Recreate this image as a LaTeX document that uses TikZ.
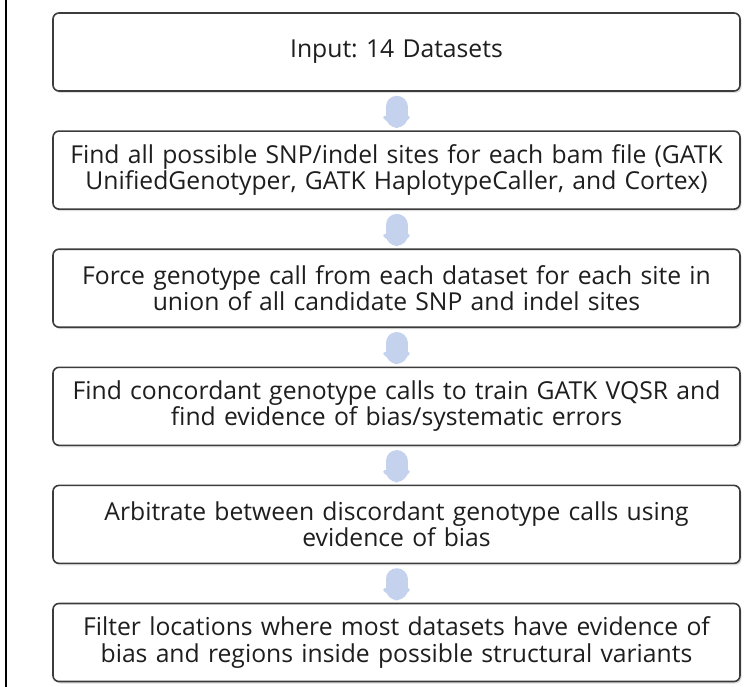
\documentclass[tikz,border=0pt]{standalone}
\usepackage{fontspec}
\setmainfont{Open Sans}
\frenchspacing
\usetikzlibrary{positioning, arrows.meta, shadows}

\definecolor{boxgray}{RGB}{60,60,60}
\definecolor{textgray}{RGB}{30,30,30}
\definecolor{arrowblue}{RGB}{196,210,238}

\begin{document}
\begin{tikzpicture}[
		x=1pt, y=-1pt,
		procbox/.style={rectangle, draw=boxgray, line width=1.6pt, rounded corners=6pt, fill=white, text width=667pt, inner xsep=10pt, inner ysep=0pt, minimum height=78pt, align=center, text=textgray, font=\fontsize{24.7}{26.5}\selectfont, drop shadow={shadow xshift=1.5pt, shadow yshift=-2pt, opacity=0.25}},
		flowarrow/.style={line width=22pt, draw=arrowblue, line cap=round, -{Triangle[width=32pt, length=13pt, round]}},
	]
	\useasboundingbox (0,0) rectangle (754,687);

	\draw[line width=2pt] (6,0) -- (6,687);

	\node[procbox] (input) at (396.5,52) {Input: 14 Datasets};
	\node[procbox, below=38.5pt of input] (findsites) {Find all possible SNP/indel sites for each bam file (GATK\\ UnifiedGenotyper, GATK HaplotypeCaller, and Cortex)};
	\node[procbox, below=38.5pt of findsites] (force) {Force genotype call from each dataset for each site in\\ union of all candidate SNP and indel sites};
	\node[procbox, below=38.5pt of force] (concord) {Find concordant genotype calls to train GATK VQSR and\\ find evidence of bias/systematic errors};
	\node[procbox, below=38.5pt of concord] (arbit) {Arbitrate between discordant genotype calls using\\ evidence of bias};
	\node[procbox, below=38.5pt of arbit] (filter) {Filter locations where most datasets have evidence of\\ bias and regions inside possible structural variants};

	\foreach \i/\j in {input/findsites, findsites/force, force/concord, concord/arbit, arbit/filter}
		\draw[flowarrow] ([yshift=-15pt]\i.south) -- ([yshift=2pt]\j.north);

\end{tikzpicture}
\end{document}
